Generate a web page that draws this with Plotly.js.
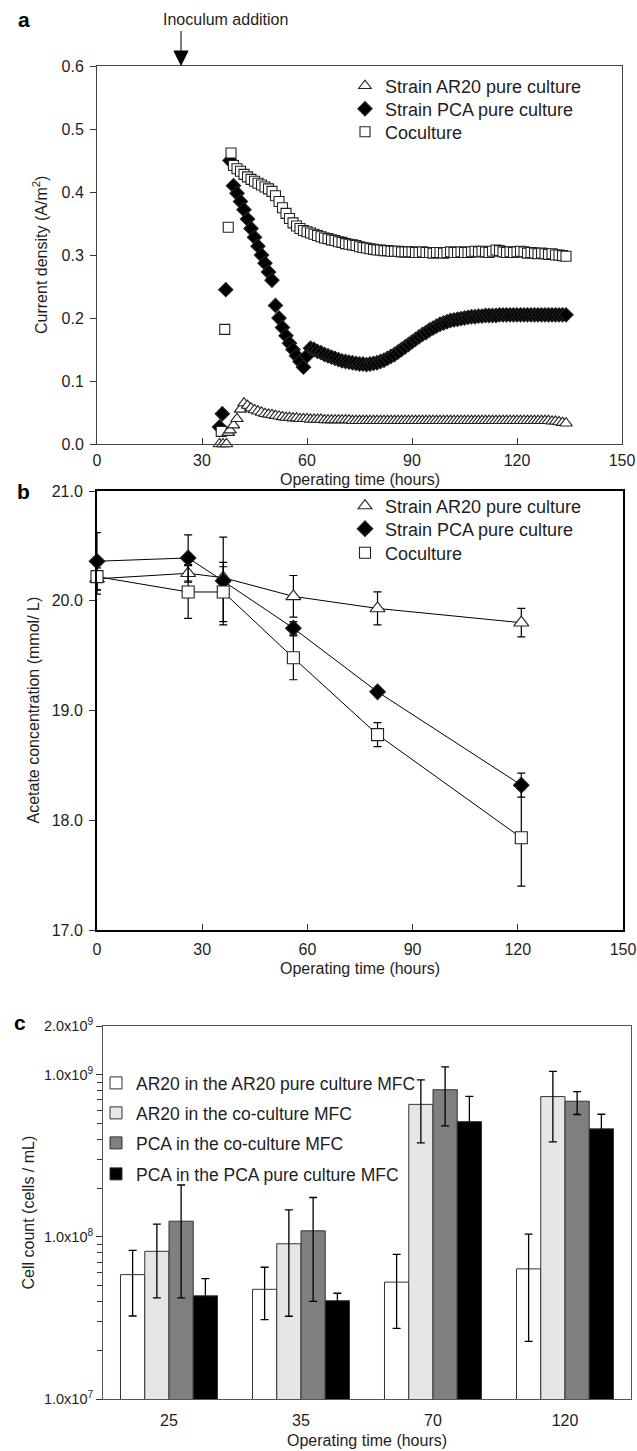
<!DOCTYPE html>
<html><head><meta charset="utf-8">
<script src="https://cdn.plot.ly/plotly-3.0.1.min.js"></script>
<style>html,body{margin:0;padding:0;background:#fff}#chart{width:637px;height:1451px}</style>
</head><body><div id="chart"></div>
<script>
// ---------- Panel a: current density (A/m2) vs operating time (h) ----------
const aTimeAR20 = [35,36,37,37.5,38,39,40,41,42,43,44,45,46,47,48,49,50,51,52,53,54,55,56,57,58,59,60,61,62,63,64,65,66,67,68,69,70,71,72,73,74,75,76,77,78,79,80,81,82,83,84,85,86,87,88,89,90,91,92,93,94,95,96,97,98,99,100,101,102,103,104,105,106,107,108,109,110,111,112,113,114,115,116,117,118,119,120,121,122,123,124,125,126,127,128,129,130,131,132,133,134];
const aCurAR20 = [0,0,0,0.018,0.022,0.030,0.040,0.055,
 0.065,0.061,0.057,0.054,0.052,0.050,0.048,0.047,0.046,0.045,0.044,0.043,0.042,0.042,0.041,0.041,0.040,0.040,0.040,0.039,
 0.039,0.039,0.039,0.038,0.038,0.038,0.038,0.038,0.038,0.038,0.038,0.037,0.037,0.037,0.037,0.037,0.037,0.037,0.037,0.037,
 0.037,0.037,0.037,0.037,0.037,0.037,0.037,0.037,0.037,0.037,0.037,0.037,0.037,0.037,0.037,0.037,0.037,0.037,0.037,0.037,
 0.037,0.037,0.037,0.037,0.037,0.037,0.037,0.037,0.037,0.037,0.037,0.037,0.037,0.037,0.037,0.037,0.037,0.037,0.037,0.037,
 0.037,0.037,0.037,0.037,0.037,0.037,0.037,0.037,0.036,0.036,0.035,0.034,0.033];
const aTimePCA = [35,35.8,36.8,38,39,40,41,42,43,44,45,46,47,48,49,50,51,52,53,54,55,56,57,58,59,60,61,62,63,64,65,66,67,68,69,70,71,72,73,74,75,76,77,78,79,80,81,82,83,84,85,86,87,88,89,90,91,92,93,94,95,96,97,98,99,100,101,102,103,104,105,106,107,108,109,110,111,112,113,114,115,116,117,118,119,120,121,122,123,124,125,126,127,128,129,130,131,132,133,134];
const aCurPCA = [0.027,0.048,0.245,0.450,0.410,
 0.398,0.385,0.372,0.357,0.342,0.328,0.314,0.300,0.287,0.273,0.260,0.220,0.200,0.185,0.172,0.160,0.150,0.140,0.131,0.122,
 0.140,0.152,0.150,0.147,0.145,0.142,0.140,0.138,0.136,0.134,0.132,0.131,0.130,0.129,0.128,0.127,0.127,0.126,0.127,0.128,
 0.129,0.131,0.133,0.136,0.139,0.142,0.146,0.150,0.154,0.158,0.162,0.166,0.170,0.174,0.177,0.181,0.184,0.187,0.190,0.192,
 0.194,0.196,0.197,0.198,0.199,0.200,0.201,0.202,0.202,0.203,0.203,0.204,0.204,0.204,0.204,0.205,0.205,0.205,0.205,0.205,
 0.205,0.205,0.205,0.205,0.205,0.205,0.205,0.205,0.205,0.205,0.205,0.205,0.205,0.205,0.205];
const aTimeCo = [35.5,36.5,37.5,38.3,39,40,41,42,43,44,45,46,47,48,49,50,51,52,53,54,55,56,57,58,59,60,61,62,63,64,65,66,67,68,69,70,71,72,73,74,75,76,77,78,79,80,81,82,83,84,85,86,87,88,89,90,91,92,93,94,95,96,97,98,99,100,101,102,103,104,105,106,107,108,109,110,111,112,113,114,115,116,117,118,119,120,121,122,123,124,125,126,127,128,129,130,131,132,133,134];
const aCurCo = [0.020,0.182,0.344,0.462,0.442,
 0.437,0.433,0.428,0.424,0.420,0.417,0.414,0.411,0.408,0.405,0.401,0.394,0.385,0.375,0.366,0.358,0.351,0.346,0.342,0.339,
 0.337,0.335,0.333,0.331,0.329,0.327,0.326,0.324,0.323,0.321,0.320,0.318,0.317,0.316,0.315,0.313,0.312,0.311,0.310,0.309,
 0.308,0.308,0.307,0.307,0.306,0.306,0.306,0.305,0.305,0.305,0.305,0.304,0.304,0.305,0.304,0.304,0.303,0.304,0.304,0.303,
 0.304,0.305,0.304,0.304,0.305,0.304,0.304,0.305,0.306,0.305,0.306,0.305,0.304,0.306,0.308,0.307,0.305,0.304,0.305,0.304,
 0.305,0.306,0.305,0.303,0.304,0.303,0.302,0.303,0.302,0.301,0.302,0.300,0.300,0.299,0.298];
const inoculumTime = 24;

// ---------- Panel b: acetate concentration (mmol/L) ----------
const bTime = [0, 26, 36, 56, 80, 121];
const bAR20 = [20.20, 20.25, 20.21, 20.04, 19.93, 19.80];
const bAR20Err = [0.10, 0.08, 0.10, 0.19, 0.15, 0.13];
const bPCA = [20.36, 20.39, 20.18, 19.75, 19.17, 18.32];
const bPCAErr = [0.26, 0.21, 0.40, 0.06, 0.03, 0.11];
const bCo = [20.22, 20.08, 20.08, 19.48, 18.78, 17.84];
const bCoErr = [0.16, 0.24, 0.27, 0.20, 0.11, 0.44];

// ---------- Panel c: cell counts (cells/mL) ----------
const cCats = ['25', '35', '70', '120'];
const cAR20Pure = [5.85e7, 4.75e7, 5.26e7, 6.35e7];
const cAR20PureUp = [2.4e7, 1.75e7, 2.55e7, 4.05e7];
const cAR20PureDn = [2.6e7, 1.66e7, 2.53e7, 4.08e7];
const cAR20Co = [8.15e7, 9.07e7, 6.57e8, 7.34e8];
const cAR20CoUp = [3.85e7, 5.6e7, 2.73e8, 3.16e8];
const cAR20CoDn = [3.95e7, 5.83e7, 2.77e8, 3.48e8];
const cPCACo = [1.25e8, 1.09e8, 8.09e8, 6.87e8];
const cPCACoUp = [8.4e7, 6.6e7, 3.11e8, 1.0e8];
const cPCACoDn = [8.3e7, 6.9e7, 3.25e8, 1.18e8];
const cPCAPure = [4.33e7, 4.04e7, 5.14e8, 4.64e8];
const cPCAPureUp = [1.2e7, 4.5e6, 2.23e8, 1.07e8];
const cPCAPureDn = [1.2e7, 4.5e6, 2.23e8, 1.07e8];
const cTickVals = [1e7, 1e8, 1e9, 2e9];
const cTickText = ['1.0x10<sup>7</sup>', '1.0x10<sup>8</sup>', '1.0x10<sup>9</sup>', '2.0x10<sup>9</sup>'];
const cMinorVals = [2e7,3e7,4e7,5e7,6e7,7e7,8e7,9e7,2e8,3e8,4e8,5e8,6e8,7e8,8e8,9e8];

// ---------- layout geometry (pixels) ----------
const W = 637, H = 1451;
const A = {l: 97, r: 622, t: 66, b: 444};
const B = {l: 97, r: 623, t: 491, b: 930};
const C = {l: 103, r: 631, t: 1026, b: 1399};
const px = v => v / W, py = v => 1 - v / H;
const FONT = '"Liberation Sans", Arial, Helvetica, sans-serif';
const TXT = '#1e1e1e';
const EDGE = '#222';

const mk = (sym, size, filled) => ({symbol: sym, size: size, color: filled ? '#000' : '#fff', line: {color: EDGE, width: 1.1}});

const traces = [];
// panel a (each legend entry gets its own legend box so rows can be spaced like the original)
traces.push({x: aTimePCA, y: aCurPCA, type: 'scatter', mode: 'markers', name: 'Strain PCA pure culture',
  marker: mk('diamond', 11, true), xaxis: 'x', yaxis: 'y', legend: 'legend2', cliponaxis: false});
traces.push({x: aTimeCo, y: aCurCo, type: 'scatter', mode: 'markers', name: 'Coculture',
  marker: mk('square', 10, false), xaxis: 'x', yaxis: 'y', legend: 'legend3', cliponaxis: false});
traces.push({x: aTimeAR20, y: aCurAR20, type: 'scatter', mode: 'markers', name: 'Strain AR20 pure culture',
  marker: mk('triangle-up', 11, false), xaxis: 'x', yaxis: 'y', legend: 'legend', cliponaxis: false});

// panel b
const errB = arr => ({type: 'data', array: arr, visible: true, color: '#000', thickness: 1.2, width: 4});
const lineB = {color: '#000', width: 1};
traces.push({x: bTime, y: bAR20, error_y: errB(bAR20Err), type: 'scatter', mode: 'lines+markers', showlegend: false,
  line: lineB, marker: mk('triangle-up', 13, false), xaxis: 'x2', yaxis: 'y2', cliponaxis: false});
traces.push({x: bTime, y: bPCA, error_y: errB(bPCAErr), type: 'scatter', mode: 'lines+markers', showlegend: false,
  line: lineB, marker: mk('diamond', 12, true), xaxis: 'x2', yaxis: 'y2', cliponaxis: false});
traces.push({x: bTime, y: bCo, error_y: errB(bCoErr), type: 'scatter', mode: 'lines+markers', showlegend: false,
  line: lineB, marker: mk('square', 12, false), xaxis: 'x2', yaxis: 'y2', cliponaxis: false});
// legend entries for panel b (symbols only, as in the original)
traces.push({x: [null], y: [null], type: 'scatter', mode: 'markers', name: 'Strain AR20 pure culture', marker: mk('triangle-up', 12, false), xaxis: 'x2', yaxis: 'y2', legend: 'legend4'});
traces.push({x: [null], y: [null], type: 'scatter', mode: 'markers', name: 'Strain PCA pure culture', marker: mk('diamond', 12, true), xaxis: 'x2', yaxis: 'y2', legend: 'legend5'});
traces.push({x: [null], y: [null], type: 'scatter', mode: 'markers', name: 'Coculture', marker: mk('square', 11, false), xaxis: 'x2', yaxis: 'y2', legend: 'legend6'});

// panel c
const errC = (up, dn) => ({type: 'data', array: up, arrayminus: dn, visible: true, color: '#000', thickness: 1.3, width: 4});
const barC = (y, up, dn, name, color, lg) => ({x: cCats, y: y, error_y: errC(up, dn), type: 'bar', name: name,
  marker: {color: color, line: {color: '#333', width: 1}}, xaxis: 'x3', yaxis: 'y3', legend: lg});
traces.push(barC(cAR20Pure, cAR20PureUp, cAR20PureDn, 'AR20 in the AR20 pure culture MFC', '#ffffff', 'legend7'));
traces.push(barC(cAR20Co, cAR20CoUp, cAR20CoDn, 'AR20 in the co-culture MFC', '#e6e6e6', 'legend8'));
traces.push(barC(cPCACo, cPCACoUp, cPCACoDn, 'PCA in the co-culture MFC', '#7f7f7f', 'legend9'));
traces.push(barC(cPCAPure, cPCAPureUp, cPCAPureDn, 'PCA in the PCA pure culture MFC', '#000000', 'legend10'));

const tickFont = {family: FONT, size: 16, color: TXT};
const baseAx = {showgrid: false, zeroline: false, showline: true, mirror: true, tickfont: tickFont, tickcolor: '#333', tickwidth: 1};
const legBox = (x, yc, size) => ({x: px(x), y: py(yc), xanchor: 'left', yanchor: 'middle', bgcolor: 'rgba(0,0,0,0)',
  borderwidth: 0, font: {family: FONT, size: size, color: TXT}});

// inoculum arrow geometry (derived from the axis mapping of inoculumTime)
const arrowX = A.l + inoculumTime / 150 * (A.r - A.l);

const layout = {
  width: W, height: H, margin: {l: 0, r: 0, t: 0, b: 0}, paper_bgcolor: '#fff', plot_bgcolor: '#fff',
  font: {family: FONT, color: TXT}, barmode: 'group', bargap: 0.265, bargroupgap: 0,
  xaxis: Object.assign({}, baseAx, {domain: [px(A.l), px(A.r)], anchor: 'y', range: [0, 150], tick0: 0, dtick: 30,
    ticks: 'inside', ticklen: 6, ticklabelstandoff: 2, linecolor: '#444', linewidth: 1}),
  yaxis: Object.assign({}, baseAx, {domain: [py(A.b), py(A.t)], anchor: 'x', range: [0, 0.6], tick0: 0, dtick: 0.1, tickformat: '.1f',
    ticks: 'outside', ticklen: 6, ticklabelstandoff: 3, linecolor: '#444', linewidth: 1}),
  xaxis2: Object.assign({}, baseAx, {domain: [px(B.l), px(B.r)], anchor: 'y2', range: [0, 150], tick0: 0, dtick: 30,
    ticks: 'inside', ticklen: 6, ticklabelstandoff: 4, linecolor: '#000', linewidth: 2}),
  yaxis2: Object.assign({}, baseAx, {domain: [py(B.b), py(B.t)], anchor: 'x2', range: [17, 21], tick0: 17, dtick: 1, tickformat: '.1f',
    ticks: 'outside', ticklen: 6, ticklabelstandoff: 3, linecolor: '#000', linewidth: 2}),
  xaxis3: Object.assign({}, baseAx, {domain: [px(C.l), px(C.r)], anchor: 'y3', type: 'category',
    ticks: 'outside', ticklen: 7, tickcolor: 'rgba(0,0,0,0)', linecolor: '#555', linewidth: 1}),
  yaxis3: Object.assign({}, baseAx, {domain: [py(C.b), py(C.t)], anchor: 'x3', type: 'log', range: [7, Math.log10(2e9)],
    tickmode: 'array', tickvals: cTickVals, ticktext: cTickText, ticks: 'outside', ticklen: 6, linecolor: '#555', linewidth: 1,
    tickfont: {family: FONT, size: 14.5, color: TXT},
    minor: {tickmode: 'array', tickvals: cMinorVals, ticks: 'outside', ticklen: 5, tickcolor: '#333'}}),
  legend: legBox(345, 86, 18),
  legend2: legBox(345, 109, 18),
  legend3: legBox(345, 132, 18),
  legend4: legBox(345, 506, 18),
  legend5: legBox(345, 529, 18),
  legend6: legBox(345, 553, 18),
  legend7: legBox(96, 1083, 17.5),
  legend8: legBox(96, 1113, 17.5),
  legend9: legBox(96, 1143, 17.5),
  legend10: legBox(96, 1174, 17.5),
  shapes: [
    {type: 'line', xref: 'paper', yref: 'paper', x0: px(arrowX), x1: px(arrowX), y0: py(31), y1: py(A.t - 12), line: {color: '#000', width: 1}},
    {type: 'path', xref: 'paper', yref: 'paper', fillcolor: '#000', line: {color: '#000', width: 1},
     path: 'M ' + px(arrowX - 7) + ',' + py(A.t - 15) + ' L ' + px(arrowX + 7) + ',' + py(A.t - 15) + ' L ' + px(arrowX) + ',' + py(A.t - 1) + ' Z'}
  ],
  annotations: [
    {text: '<b>a</b>', x: px(24), y: py(20)},
    {text: '<b>b</b>', x: px(24), y: py(B.t)},
    {text: '<b>c</b>', x: px(20), y: py(1022)},
    {text: 'Inoculum addition', x: px(225), y: py(20), size: 16},
    {text: 'Current density (A/m<sup>2</sup>)', textangle: -90, x: px(40), y: py((A.t + A.b) / 2), size: 16},
    {text: 'Operating time (hours)', x: px((A.l + A.r) / 2), y: py(A.b + 36), size: 16},
    {text: 'Acetate concentration (mmol/ L)', textangle: -90, x: px(33), y: py((B.t + B.b) / 2), size: 16},
    {text: 'Operating time (hours)', x: px((B.l + B.r) / 2), y: py(B.b + 38), size: 16},
    {text: 'Cell count (cells / mL)', textangle: -90, x: px(28), y: py((C.t + C.b) / 2), size: 16},
    {text: 'Operating time (hours)', x: px((C.l + C.r) / 2), y: py(C.b + 41), size: 16}
  ].map(a => {
    const bold = a.text.startsWith('<b>');
    return {text: a.text, x: a.x, y: a.y, textangle: a.textangle || 0, xref: 'paper', yref: 'paper', xanchor: 'center', yanchor: 'middle',
      showarrow: false, font: {family: FONT, size: bold ? 21 : a.size, color: bold ? '#000' : TXT}};
  })
};

Plotly.newPlot('chart', traces, layout, {staticPlot: true, displayModeBar: false});
</script></body></html>
